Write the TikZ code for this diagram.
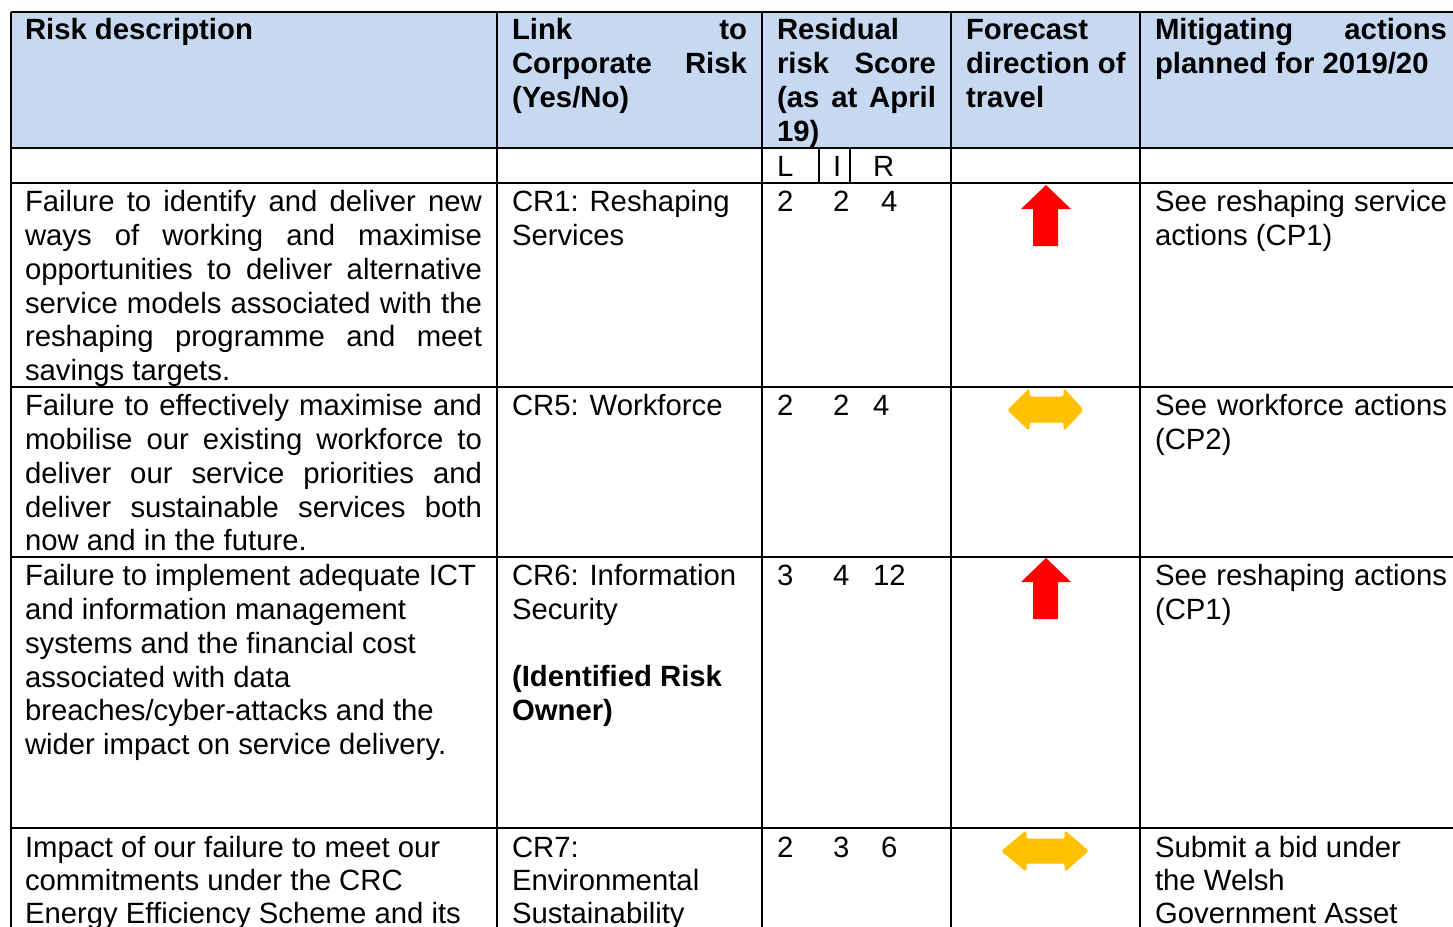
\documentclass[tikz,border=0pt]{standalone}
\usepackage{fontspec}
\setmainfont{Liberation Sans}
\definecolor{hdrblue}{HTML}{C6D9F1}
\definecolor{upred}{HTML}{FF0000}
\definecolor{flatyellow}{HTML}{FFC000}
\newcommand\jl[2]{\makebox[#1][s]{#2}}
\tikzset{
  txt/.style={anchor=base west, inner sep=0pt, outer sep=0pt, font=\fontsize{29.3}{34}\selectfont},
  hd/.style={txt, font=\fontsize{29.3}{34}\selectfont\bfseries},
  grid/.style={line width=1.6pt, black},
  uparrow/.style={fill=upred, draw=none},
  flatarrow/.style={fill=flatyellow, draw=flatyellow, line width=1pt, rounded corners=2pt, line join=round}
}
\begin{document}
\begin{tikzpicture}[x=1pt, y=-1pt]
\clip (0,0) rectangle (1453,926);
\fill[white] (0,0) rectangle (1453,926);
% header fill
\fill[hdrblue] (11,12) rectangle (1453,148);
% grid
\foreach \yy in {12,148,183,387,557,828} \draw[grid] (11,\yy) -- (1453,\yy);
\foreach \xx in {11,497,762,951,1140} \draw[grid] (\xx,12) -- (\xx,930);
\draw[grid] (819,148) -- (819,183);
\draw[grid] (850,148) -- (850,183);

% header text
\node[hd] (h1) at (25,39) {Risk description};
\node[hd] (h2a) at (512,39) {\jl{235pt}{Link to}};
\node[hd] (h2b) at (512,73) {\jl{235pt}{Corporate Risk}};
\node[hd] (h2c) at (512,107) {(Yes/No)};
\node[hd] (h3a) at (777,39) {Residual};
\node[hd] (h3b) at (777,73) {\jl{159pt}{risk Score}};
\node[hd] (h3c) at (777,107) {\jl{159pt}{(as at April}};
\node[hd] (h3d) at (777,141) {19)};
\node[hd] (h4a) at (966,39) {Forecast};
\node[hd] (h4b) at (966,73) {direction of};
\node[hd] (h4c) at (966,107) {travel};
\node[hd] (h5a) at (1155,39) {\jl{292pt}{Mitigating actions}};
\node[hd] (h5b) at (1155,73) {planned for 2019/20};

% L I R
\node[txt] (sl) at (777,176) {L};
\node[txt] (si) at (833,176) {I};
\node[txt] (sr) at (873,176) {R};

% row 1
\node[txt] (r1a) at (25,211) {\jl{457pt}{Failure to identify and deliver new}};
\node[txt] (r1b) at (25,245) {\jl{457pt}{ways of working and maximise}};
\node[txt] (r1c) at (25,279) {\jl{457pt}{opportunities to deliver alternative}};
\node[txt] (r1d) at (25,313) {\jl{457pt}{service models associated with the}};
\node[txt] (r1e) at (25,346) {\jl{457pt}{reshaping programme and meet}};
\node[txt] (r1f) at (25,380) {savings targets.};
\node[txt] (r1g) at (512,211) {CR1: Reshaping};
\node[txt] (r1h) at (512,245) {Services};
\node[txt] (r1l) at (777,211) {2};
\node[txt] (r1i) at (833,211) {2};
\node[txt] (r1r) at (881,211) {4};
\node[txt] (r1m) at (1155,211) {\jl{292pt}{See reshaping service}};
\node[txt] (r1n) at (1155,245) {actions (CP1)};
\fill[uparrow] (1046,185) -- (1071,209) -- (1058,209) -- (1058,246) -- (1033,246) -- (1033,209) -- (1021,209) -- cycle;

% row 2
\node[txt] (r2a) at (25,415) {\jl{457pt}{Failure to effectively maximise and}};
\node[txt] (r2b) at (25,449) {\jl{457pt}{mobilise our existing workforce to}};
\node[txt] (r2c) at (25,483) {\jl{457pt}{deliver our service priorities and}};
\node[txt] (r2d) at (25,517) {\jl{457pt}{deliver sustainable services both}};
\node[txt] (r2e) at (25,550) {now and in the future.};
\node[txt] (r2g) at (512,415) {CR5: Workforce};
\node[txt] (r2l) at (777,415) {2};
\node[txt] (r2i) at (833,415) {2};
\node[txt] (r2r) at (873,415) {4};
\node[txt] (r2m) at (1155,415) {\jl{292pt}{See workforce actions}};
\node[txt] (r2n) at (1155,449) {(CP2)};
\filldraw[flatarrow] (1008,410) -- (1029,389) -- (1029,397) -- (1064,397) -- (1064,389) -- (1083,410) -- (1064,430) -- (1064,422) -- (1029,422) -- (1029,430) -- cycle;

% row 3
\node[txt] (r3a) at (25,585) {Failure to implement adequate ICT};
\node[txt] (r3b) at (25,619) {and information management};
\node[txt] (r3c) at (25,653) {systems and the financial cost};
\node[txt] (r3d) at (25,687) {associated with data};
\node[txt] (r3e) at (25,720) {breaches/cyber-attacks and the};
\node[txt] (r3f) at (25,754) {wider impact on service delivery.};
\node[txt] (r3g) at (512,585) {CR6: Information};
\node[txt] (r3h) at (512,619) {Security};
\node[hd] (r3j) at (512,686) {(Identified Risk};
\node[hd] (r3k) at (512,720) {Owner)};
\node[txt] (r3l) at (777,585) {3};
\node[txt] (r3i) at (833,585) {4};
\node[txt] (r3r) at (873,585) {12};
\node[txt] (r3m) at (1155,585) {\jl{292pt}{See reshaping actions}};
\node[txt] (r3n) at (1155,619) {(CP1)};
\fill[uparrow] (1046,558) -- (1071,582) -- (1058,582) -- (1058,619) -- (1033,619) -- (1033,582) -- (1021,582) -- cycle;

% row 4
\node[txt] (r4a) at (25,857) {Impact of our failure to meet our};
\node[txt] (r4b) at (25,890) {commitments under the CRC};
\node[txt] (r4c) at (25,923) {Energy Efficiency Scheme and its};
\node[txt] (r4g) at (512,857) {CR7:};
\node[txt] (r4h) at (512,890) {Environmental};
\node[txt] (r4k) at (512,923) {Sustainability};
\node[txt] (r4l) at (777,857) {2};
\node[txt] (r4i) at (833,857) {3};
\node[txt] (r4r) at (881,857) {6};
\node[txt] (r4m) at (1155,857) {Submit a bid under};
\node[txt] (r4n) at (1155,890) {the Welsh};
\node[txt] (r4o) at (1155,923) {Government Asset};
\filldraw[flatarrow] (1002,851) -- (1026,831) -- (1026,839) -- (1065,839) -- (1065,831) -- (1088,851) -- (1065,871) -- (1065,863) -- (1026,863) -- (1026,871) -- cycle;
\end{tikzpicture}
\end{document}
